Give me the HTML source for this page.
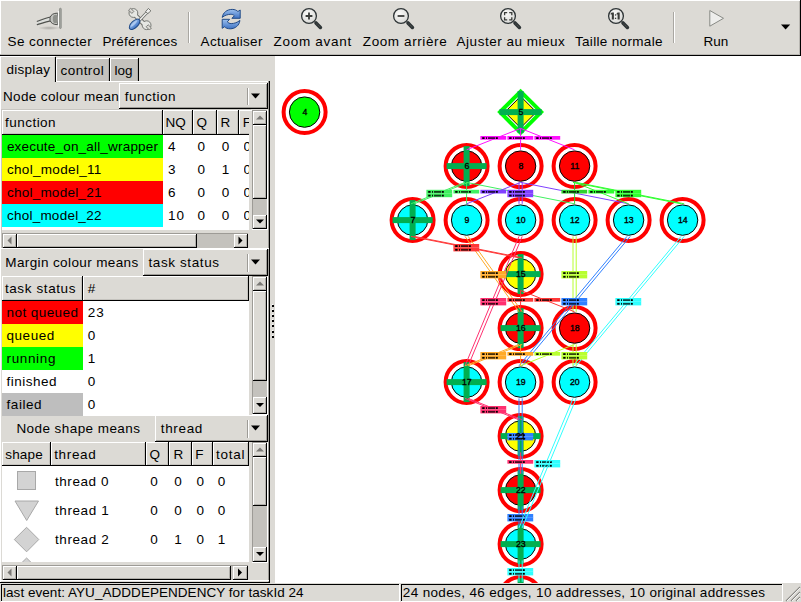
<!DOCTYPE html>
<html><head><meta charset="utf-8"><title>Temanejo</title>
<style>
html,body{margin:0;padding:0;}
body{width:801px;height:602px;overflow:hidden;position:relative;background:#dcdad5;font-family:"Liberation Sans",sans-serif;}
.a{position:absolute;}
.t{position:absolute;white-space:nowrap;color:#000;}
svg{position:absolute;}
</style></head><body>
<div class="a" style="left:0px;top:0px;width:801px;height:56px;background:#dcdad5;"></div>
<div class="a" style="left:0px;top:0px;width:801px;height:1px;background:#fff;"></div>
<div class="a" style="left:0px;top:0px;width:1px;height:55px;background:#fff;"></div>
<div class="a" style="left:0px;top:54px;width:801px;height:1px;background:#b9b7b2;"></div>
<div class="a" style="left:0px;top:55px;width:801px;height:1px;background:#000;"></div>
<div class="a" style="left:800px;top:0px;width:1px;height:56px;background:#000;"></div>
<div class="a" style="left:799px;top:1px;width:1px;height:54px;background:#b9b7b2;"></div>
<div class="t" style="left:7.50px;top:35.00px;font-size:13.5px;line-height:13.5px;letter-spacing:0.431px;">Se connecter</div>
<div class="t" style="left:102.40px;top:35.00px;font-size:13.5px;line-height:13.5px;letter-spacing:0.211px;">Préférences</div>
<div class="t" style="left:200.60px;top:35.00px;font-size:13.5px;line-height:13.5px;letter-spacing:0.280px;">Actualiser</div>
<div class="t" style="left:273.60px;top:35.00px;font-size:13.5px;line-height:13.5px;letter-spacing:0.702px;">Zoom avant</div>
<div class="t" style="left:362.80px;top:35.00px;font-size:13.5px;line-height:13.5px;letter-spacing:0.602px;">Zoom arrière</div>
<div class="t" style="left:456.60px;top:35.00px;font-size:13.5px;line-height:13.5px;letter-spacing:0.510px;">Ajuster au mieux</div>
<div class="t" style="left:574.90px;top:35.00px;font-size:13.5px;line-height:13.5px;letter-spacing:0.332px;">Taille normale</div>
<div class="t" style="left:703.47px;top:35.00px;font-size:13.5px;line-height:13.5px;">Run</div>
<div class="a" style="left:188px;top:12px;width:1px;height:31px;background:#a9a7a2;"></div>
<div class="a" style="left:189px;top:12px;width:1px;height:31px;background:#fff;"></div>
<div class="a" style="left:673px;top:12px;width:1px;height:31px;background:#a9a7a2;"></div>
<div class="a" style="left:674px;top:12px;width:1px;height:31px;background:#fff;"></div>
<svg style="left:0;top:0" width="801" height="54">
<defs>
<radialGradient id="lens" cx="0.4" cy="0.35" r="0.7"><stop offset="0" stop-color="#fafaf9"/><stop offset="1" stop-color="#d8d8d5"/></radialGradient>
<linearGradient id="blu" x1="0" y1="0" x2="0" y2="1"><stop offset="0" stop-color="#9cc0ee"/><stop offset="1" stop-color="#3d72c4"/></linearGradient>
<radialGradient id="shd" cx="0.5" cy="0.5" r="0.5"><stop offset="0" stop-color="#000" stop-opacity="0.22"/><stop offset="1" stop-color="#000" stop-opacity="0"/></radialGradient>
</defs>
<!-- Se connecter: plug -->
<ellipse cx="49" cy="28" rx="11" ry="2" fill="url(#shd)"/>
<path d="M37.2 21.3L50.6 17V20.9L37.2 24.6Z" fill="#dcdedb"/>
<path d="M37.3 21.3C42 19.6 46 18 50.6 17M37.3 24.6C42 23.2 46 21.8 50.6 20.9" fill="none" stroke="#4f514d" stroke-width="1.2" stroke-linecap="round"/>
<path d="M50 17.6C51 14.6 53.3 13.2 57.8 13.1V24.7C53.3 24.6 51 23.3 50 20.3Z" fill="#c2c3bf" stroke="#4e4f4c" stroke-width="1"/>
<ellipse cx="55.4" cy="18.9" rx="2.6" ry="4.2" fill="#8e908b"/>
<rect x="57.9" y="11" width="1.4" height="15.5" fill="#fbfbfa"/>
<rect x="59.5" y="8.2" width="1.8" height="20.3" rx="0.8" fill="#a3a5a0" stroke="#6d6f6b" stroke-width="0.5"/>
<!-- Preferences: wrench + screwdriver -->
<line x1="134" y1="14" x2="146" y2="26" stroke="#6a6c68" stroke-width="4.6"/>
<circle cx="133.4" cy="13" r="4.4" fill="#e6e7e3" stroke="#6a6c68" stroke-width="0.9"/>
<circle cx="146.6" cy="25.2" r="4.4" fill="#e6e7e3" stroke="#6a6c68" stroke-width="0.9"/>
<line x1="134" y1="14" x2="146" y2="26" stroke="#e6e7e3" stroke-width="2.8"/>
<rect x="-1.4" y="-5.4" width="2.8" height="4.6" transform="translate(133.4,13) rotate(-45)" fill="#dcdad5" stroke="#6a6c68" stroke-width="0.8"/>
<rect x="-1.4" y="-5.4" width="2.8" height="4.6" transform="translate(146.6,25.2) rotate(135)" fill="#dcdad5" stroke="#6a6c68" stroke-width="0.8"/>
<path d="M138.6 21.2L147.4 12" stroke="#6a6c68" stroke-width="3"/>
<path d="M138.6 21.2L147.4 12" stroke="#f2f2f0" stroke-width="1.4"/>
<path d="M145.6 11.6L148.4 8.4L150.9 10.9L147.8 13.6Z" fill="#eeeeec" stroke="#6a6c68" stroke-width="0.9" stroke-linejoin="round"/>
<ellipse cx="0" cy="0" rx="6.6" ry="3.3" transform="translate(134.6,24.3) rotate(-44)" fill="url(#blu)" stroke="#204a87" stroke-width="1"/>
<ellipse cx="0" cy="-0.9" rx="4.4" ry="1.1" transform="translate(134.6,24.3) rotate(-44)" fill="#b7d0f2" opacity="0.8"/>
<!-- Actualiser: refresh -->
<path d="M222.2 17.4C223 12.5 227 9.4 232.2 9.4C234.8 9.4 236.7 10.3 237.9 11.5L240.2 10V18.3H231.9L234.4 15.8C233.4 14.8 232.2 14.3 230.8 14.3C227.5 14.4 224.8 15.3 222.2 17.4Z" fill="url(#blu)" stroke="#204a87" stroke-width="1" stroke-linejoin="round"/>
<path d="M239.9 20.4C239.3 25.5 235.2 28.8 230.2 28.8C227.7 28.8 225.7 28 224.4 26.8L222.2 28.3V19.3H229.6L227.3 21.8C228.3 22.9 229.6 23.6 231.2 23.6C234.5 23.5 237.3 22.5 239.9 20.4Z" fill="url(#blu)" stroke="#204a87" stroke-width="1" stroke-linejoin="round"/>
<!-- zoom lenses -->
<g id="zl">
<path d="M316 23L320.4 27.4" stroke="#2e3436" stroke-width="3.6" stroke-linecap="round"/>
<path d="M316.6 23.6L320 27" stroke="#555753" stroke-width="1.1" stroke-dasharray="1 1"/>
<circle cx="309" cy="16" r="7.4" fill="url(#lens)" stroke="#2e3436" stroke-width="1.3"/>
</g>
<path d="M305.6 16H312.4M309 12.6V19.4" stroke="#3b3d3a" stroke-width="1.8"/>
<use href="#zl" x="92"/>
<path d="M397.6 16H404.4" stroke="#3b3d3a" stroke-width="1.8"/>
<use href="#zl" x="199"/>
<path d="M504.6 15.2V12.6H507.2M509.2 12.6H511.8V15.2M511.8 17.2V19.8H509.2M507.2 19.8H504.6V17.2" fill="none" stroke="#3b3d3a" stroke-width="1.3"/>
<use href="#zl" x="307"/>
<path d="M611.8 12.6H613.9V19.6H611.8V14.4L610.6 14.6V13.6Z M617.6 12.6H619.7V19.6H617.6V14.4L616.6 14.6V13.6Z" fill="#3b3d3a"/><rect x="614.9" y="14.3" width="1.3" height="1.3" fill="#3b3d3a"/><rect x="614.9" y="17.7" width="1.3" height="1.3" fill="#3b3d3a"/>
<!-- Run -->
<path d="M709.8 10.5V26.2L723.5 18.3Z" fill="#eeeeec" stroke="#888a85" stroke-width="1" stroke-linejoin="round"/>
<!-- overflow arrow -->
<path d="M781 24.6H790.2L785.6 29.6Z" fill="#000"/>
</svg>
<div class="a" style="left:0px;top:56px;width:275px;height:527px;background:#dcdad5;"></div>
<div class="a" style="left:0px;top:56px;width:1px;height:527px;background:#fff;"></div>
<div class="a" style="left:1px;top:56px;width:54px;height:1px;background:#fff;"></div>
<div class="a" style="left:54px;top:57px;width:1px;height:25px;background:#c8c6c1;"></div>
<div class="a" style="left:55px;top:57px;width:1px;height:25px;background:#000;"></div>
<div class="a" style="left:56px;top:58px;width:53px;height:23px;background:#c4c2bd;"></div>
<div class="a" style="left:56px;top:58px;width:53px;height:1px;background:#fff;"></div>
<div class="a" style="left:56px;top:58px;width:1px;height:23px;background:#fff;"></div>
<div class="a" style="left:109px;top:58px;width:1px;height:23px;background:#000;"></div>
<div class="a" style="left:108px;top:59px;width:1px;height:22px;background:#b0aea9;"></div>
<div class="a" style="left:110px;top:58px;width:28px;height:23px;background:#c4c2bd;"></div>
<div class="a" style="left:110px;top:58px;width:28px;height:1px;background:#fff;"></div>
<div class="a" style="left:110px;top:58px;width:1px;height:23px;background:#fff;"></div>
<div class="a" style="left:138px;top:58px;width:1px;height:23px;background:#000;"></div>
<div class="a" style="left:137px;top:59px;width:1px;height:22px;background:#b0aea9;"></div>
<div class="a" style="left:56px;top:81px;width:214px;height:1px;background:#fff;"></div>
<div class="a" style="left:268px;top:81px;width:1px;height:502px;background:#9d9b96;"></div>
<div class="a" style="left:269px;top:81px;width:1px;height:502px;background:#000;"></div>
<div class="t" style="left:6.50px;top:63.00px;font-size:13.5px;line-height:13.5px;letter-spacing:0.246px;">display</div>
<div class="t" style="left:60.60px;top:64.00px;font-size:13.5px;line-height:13.5px;letter-spacing:0.439px;">control</div>
<div class="t" style="left:114.40px;top:64.00px;font-size:13.5px;line-height:13.5px;letter-spacing:0.045px;">log</div>
<div class="t" style="left:3.00px;top:90.00px;font-size:13.5px;line-height:13.5px;letter-spacing:0.367px;width:116.00px;overflow:hidden;">Node colour means</div>
<div class="a" style="left:119px;top:83px;width:149px;height:26px;background:#dcdad5;"></div>
<div class="a" style="left:119px;top:83px;width:148px;height:1px;background:#fff;"></div>
<div class="a" style="left:119px;top:83px;width:1px;height:25px;background:#fff;"></div>
<div class="a" style="left:119px;top:108px;width:149px;height:1px;background:#000;"></div>
<div class="a" style="left:267px;top:83px;width:1px;height:26px;background:#000;"></div>
<div class="a" style="left:120px;top:107px;width:147px;height:1px;background:#9d9b96;"></div>
<div class="a" style="left:266px;top:84px;width:1px;height:24px;background:#9d9b96;"></div>
<div class="a" style="left:247px;top:88px;width:1px;height:17px;background:#9d9b96;"></div>
<div class="a" style="left:248px;top:88px;width:1px;height:17px;background:#fff;"></div>
<svg style="left:250px;top:91.5px" width="12" height="8"><path d="M1 1.5H10L5.5 6.5Z" fill="#000"/></svg>
<div class="t" style="left:124.80px;top:90.00px;font-size:13.5px;line-height:13.5px;letter-spacing:0.489px;">function</div>
<div class="a" style="left:1px;top:109px;width:250px;height:1px;background:#c8c6c1;"></div>
<div class="a" style="left:1px;top:109px;width:1px;height:140px;background:#c8c6c1;"></div>
<div class="a" style="left:2px;top:110px;width:247px;height:120px;background:#fff;"></div>
<div class="a" style="left:2px;top:110px;width:161px;height:25px;background:#dcdad5;"></div>
<div class="a" style="left:2px;top:110px;width:161px;height:1px;background:#fff;"></div>
<div class="a" style="left:2px;top:110px;width:1px;height:25px;background:#fff;"></div>
<div class="a" style="left:2px;top:134px;width:161px;height:1px;background:#000;"></div>
<div class="a" style="left:162px;top:110px;width:1px;height:25px;background:#000;"></div>
<div class="a" style="left:161px;top:111px;width:1px;height:23px;background:#c4c2bd;"></div>
<div class="a" style="left:3px;top:133px;width:159px;height:1px;background:#c4c2bd;"></div>
<div class="t" style="left:5.00px;top:116.00px;font-size:13.5px;line-height:13.5px;letter-spacing:0.475px;">function</div>
<div class="a" style="left:163px;top:110px;width:30px;height:25px;background:#dcdad5;"></div>
<div class="a" style="left:163px;top:110px;width:30px;height:1px;background:#fff;"></div>
<div class="a" style="left:163px;top:110px;width:1px;height:25px;background:#fff;"></div>
<div class="a" style="left:163px;top:134px;width:30px;height:1px;background:#000;"></div>
<div class="a" style="left:192px;top:110px;width:1px;height:25px;background:#000;"></div>
<div class="a" style="left:191px;top:111px;width:1px;height:23px;background:#c4c2bd;"></div>
<div class="a" style="left:164px;top:133px;width:28px;height:1px;background:#c4c2bd;"></div>
<div class="t" style="left:165.62px;top:116.00px;font-size:13.5px;line-height:13.5px;">NQ</div>
<div class="a" style="left:193px;top:110px;width:24px;height:25px;background:#dcdad5;"></div>
<div class="a" style="left:193px;top:110px;width:24px;height:1px;background:#fff;"></div>
<div class="a" style="left:193px;top:110px;width:1px;height:25px;background:#fff;"></div>
<div class="a" style="left:193px;top:134px;width:24px;height:1px;background:#000;"></div>
<div class="a" style="left:216px;top:110px;width:1px;height:25px;background:#000;"></div>
<div class="a" style="left:215px;top:111px;width:1px;height:23px;background:#c4c2bd;"></div>
<div class="a" style="left:194px;top:133px;width:22px;height:1px;background:#c4c2bd;"></div>
<div class="t" style="left:196.50px;top:116.00px;font-size:13.5px;line-height:13.5px;">Q</div>
<div class="a" style="left:217px;top:110px;width:22px;height:25px;background:#dcdad5;"></div>
<div class="a" style="left:217px;top:110px;width:22px;height:1px;background:#fff;"></div>
<div class="a" style="left:217px;top:110px;width:1px;height:25px;background:#fff;"></div>
<div class="a" style="left:217px;top:134px;width:22px;height:1px;background:#000;"></div>
<div class="a" style="left:238px;top:110px;width:1px;height:25px;background:#000;"></div>
<div class="a" style="left:237px;top:111px;width:1px;height:23px;background:#c4c2bd;"></div>
<div class="a" style="left:218px;top:133px;width:20px;height:1px;background:#c4c2bd;"></div>
<div class="t" style="left:220.50px;top:116.00px;font-size:13.5px;line-height:13.5px;">R</div>
<div class="a" style="left:239px;top:110px;width:13px;height:25px;background:#dcdad5;"></div>
<div class="a" style="left:239px;top:110px;width:13px;height:1px;background:#fff;"></div>
<div class="a" style="left:239px;top:110px;width:1px;height:25px;background:#fff;"></div>
<div class="a" style="left:239px;top:134px;width:10px;height:1px;background:#000;"></div>
<div class="a" style="left:240px;top:133px;width:9px;height:1px;background:#c4c2bd;"></div>
<div class="t" style="left:242.80px;top:116.00px;font-size:13.5px;line-height:13.5px;width:6.20px;overflow:hidden;">F</div>
<div class="a" style="left:2px;top:135px;width:161px;height:23px;background:#00ff00;"></div>
<div class="t" style="left:6.90px;top:140.00px;font-size:13.5px;line-height:13.5px;letter-spacing:0.190px;">execute_on_all_wrapper</div>
<div class="t" style="left:168.00px;top:140.00px;font-size:13.5px;line-height:13.5px;">4</div>
<div class="t" style="left:197.60px;top:140.00px;font-size:13.5px;line-height:13.5px;">0</div>
<div class="t" style="left:221.80px;top:140.00px;font-size:13.5px;line-height:13.5px;">0</div>
<div class="t" style="left:243.50px;top:140.00px;font-size:13.5px;line-height:13.5px;width:5.50px;overflow:hidden;">0</div>
<div class="a" style="left:2px;top:158px;width:161px;height:23px;background:#ffff00;"></div>
<div class="t" style="left:6.90px;top:163.00px;font-size:13.5px;line-height:13.5px;letter-spacing:0.327px;">chol_model_11</div>
<div class="t" style="left:168.00px;top:163.00px;font-size:13.5px;line-height:13.5px;">3</div>
<div class="t" style="left:197.60px;top:163.00px;font-size:13.5px;line-height:13.5px;">0</div>
<div class="t" style="left:221.80px;top:163.00px;font-size:13.5px;line-height:13.5px;">1</div>
<div class="t" style="left:243.50px;top:163.00px;font-size:13.5px;line-height:13.5px;width:5.50px;overflow:hidden;">0</div>
<div class="a" style="left:2px;top:181px;width:161px;height:23px;background:#ff0000;"></div>
<div class="t" style="left:6.90px;top:186.00px;font-size:13.5px;line-height:13.5px;letter-spacing:0.244px;">chol_model_21</div>
<div class="t" style="left:168.00px;top:186.00px;font-size:13.5px;line-height:13.5px;">6</div>
<div class="t" style="left:197.60px;top:186.00px;font-size:13.5px;line-height:13.5px;">0</div>
<div class="t" style="left:221.80px;top:186.00px;font-size:13.5px;line-height:13.5px;">0</div>
<div class="t" style="left:243.50px;top:186.00px;font-size:13.5px;line-height:13.5px;width:5.50px;overflow:hidden;">0</div>
<div class="a" style="left:2px;top:204px;width:161px;height:23px;background:#00ffff;"></div>
<div class="t" style="left:6.90px;top:209.00px;font-size:13.5px;line-height:13.5px;letter-spacing:0.244px;">chol_model_22</div>
<div class="t" style="left:168.00px;top:209.00px;font-size:13.5px;line-height:13.5px;letter-spacing:1.111px;">10</div>
<div class="t" style="left:197.60px;top:209.00px;font-size:13.5px;line-height:13.5px;">0</div>
<div class="t" style="left:221.80px;top:209.00px;font-size:13.5px;line-height:13.5px;">0</div>
<div class="t" style="left:243.50px;top:209.00px;font-size:13.5px;line-height:13.5px;width:5.50px;overflow:hidden;">0</div>
<div class="a" style="left:252px;top:110px;width:16px;height:120px;background:#c4c2bd;"></div>
<div class="a" style="left:252px;top:110px;width:16px;height:1px;background:#9d9b96;"></div>
<div class="a" style="left:252px;top:110px;width:1px;height:120px;background:#9d9b96;"></div>
<div class="a" style="left:267px;top:110px;width:1px;height:120px;background:#fff;"></div>
<div class="a" style="left:252px;top:229px;width:16px;height:1px;background:#fff;"></div>
<div class="a" style="left:253px;top:111px;width:14px;height:14px;background:#dcdad5;"></div>
<div class="a" style="left:253px;top:111px;width:13px;height:1px;background:#fff;"></div>
<div class="a" style="left:253px;top:111px;width:1px;height:13px;background:#fff;"></div>
<div class="a" style="left:253px;top:124px;width:14px;height:1px;background:#000;"></div>
<div class="a" style="left:266px;top:111px;width:1px;height:14px;background:#000;"></div>
<div class="a" style="left:254px;top:123px;width:12px;height:1px;background:#b0aea9;"></div>
<div class="a" style="left:265px;top:112px;width:1px;height:12px;background:#b0aea9;"></div>
<div class="a" style="left:253px;top:125px;width:14px;height:74px;background:#dcdad5;"></div>
<div class="a" style="left:253px;top:125px;width:13px;height:1px;background:#fff;"></div>
<div class="a" style="left:253px;top:125px;width:1px;height:73px;background:#fff;"></div>
<div class="a" style="left:253px;top:198px;width:14px;height:1px;background:#000;"></div>
<div class="a" style="left:266px;top:125px;width:1px;height:74px;background:#000;"></div>
<div class="a" style="left:254px;top:197px;width:12px;height:1px;background:#b0aea9;"></div>
<div class="a" style="left:265px;top:126px;width:1px;height:72px;background:#b0aea9;"></div>
<div class="a" style="left:253px;top:215px;width:14px;height:14px;background:#dcdad5;"></div>
<div class="a" style="left:253px;top:215px;width:13px;height:1px;background:#fff;"></div>
<div class="a" style="left:253px;top:215px;width:1px;height:13px;background:#fff;"></div>
<div class="a" style="left:253px;top:228px;width:14px;height:1px;background:#000;"></div>
<div class="a" style="left:266px;top:215px;width:1px;height:14px;background:#000;"></div>
<div class="a" style="left:254px;top:227px;width:12px;height:1px;background:#b0aea9;"></div>
<div class="a" style="left:265px;top:216px;width:1px;height:12px;background:#b0aea9;"></div>
<svg style="left:252px;top:110px" width="16" height="120"><path d="M4.0 9.5H12.0L8.0 5.5Z" fill="#7a7875"/><path d="M4.0 109.5H12.0L8.0 113.5Z" fill="#000"/></svg>
<div class="a" style="left:2px;top:233px;width:246px;height:15px;background:#c4c2bd;"></div>
<div class="a" style="left:2px;top:233px;width:246px;height:1px;background:#9d9b96;"></div>
<div class="a" style="left:2px;top:233px;width:1px;height:15px;background:#9d9b96;"></div>
<div class="a" style="left:3px;top:234px;width:14px;height:14px;background:#dcdad5;"></div>
<div class="a" style="left:3px;top:234px;width:13px;height:1px;background:#fff;"></div>
<div class="a" style="left:3px;top:234px;width:1px;height:13px;background:#fff;"></div>
<div class="a" style="left:3px;top:247px;width:14px;height:1px;background:#000;"></div>
<div class="a" style="left:16px;top:234px;width:1px;height:14px;background:#000;"></div>
<div class="a" style="left:4px;top:246px;width:12px;height:1px;background:#b0aea9;"></div>
<div class="a" style="left:15px;top:235px;width:1px;height:11px;background:#b0aea9;"></div>
<div class="a" style="left:17px;top:234px;width:180px;height:14px;background:#dcdad5;"></div>
<div class="a" style="left:17px;top:234px;width:179px;height:1px;background:#fff;"></div>
<div class="a" style="left:17px;top:234px;width:1px;height:13px;background:#fff;"></div>
<div class="a" style="left:17px;top:247px;width:180px;height:1px;background:#000;"></div>
<div class="a" style="left:196px;top:234px;width:1px;height:14px;background:#000;"></div>
<div class="a" style="left:18px;top:246px;width:178px;height:1px;background:#b0aea9;"></div>
<div class="a" style="left:195px;top:235px;width:1px;height:11px;background:#b0aea9;"></div>
<div class="a" style="left:234px;top:234px;width:14px;height:14px;background:#dcdad5;"></div>
<div class="a" style="left:234px;top:234px;width:13px;height:1px;background:#fff;"></div>
<div class="a" style="left:234px;top:234px;width:1px;height:13px;background:#fff;"></div>
<div class="a" style="left:234px;top:247px;width:14px;height:1px;background:#000;"></div>
<div class="a" style="left:247px;top:234px;width:1px;height:14px;background:#000;"></div>
<div class="a" style="left:235px;top:246px;width:12px;height:1px;background:#b0aea9;"></div>
<div class="a" style="left:246px;top:235px;width:1px;height:11px;background:#b0aea9;"></div>
<svg style="left:0px;top:233px" width="270" height="16"><path d="M11.5 3.5V11.5L7.5 7.5Z" fill="#7a7875"/><path d="M238.5 3.5V11.5L242.5 7.5Z" fill="#000"/></svg>
<div class="a" style="left:1px;top:248px;width:268px;height:1px;background:#fff;"></div>
<div class="t" style="left:5.30px;top:256.00px;font-size:13.5px;line-height:13.5px;letter-spacing:0.381px;">Margin colour means</div>
<div class="a" style="left:143px;top:249px;width:125px;height:27px;background:#dcdad5;"></div>
<div class="a" style="left:143px;top:249px;width:124px;height:1px;background:#fff;"></div>
<div class="a" style="left:143px;top:249px;width:1px;height:26px;background:#fff;"></div>
<div class="a" style="left:143px;top:275px;width:125px;height:1px;background:#000;"></div>
<div class="a" style="left:267px;top:249px;width:1px;height:27px;background:#000;"></div>
<div class="a" style="left:144px;top:274px;width:123px;height:1px;background:#9d9b96;"></div>
<div class="a" style="left:266px;top:250px;width:1px;height:25px;background:#9d9b96;"></div>
<div class="a" style="left:247px;top:254px;width:1px;height:18px;background:#9d9b96;"></div>
<div class="a" style="left:248px;top:254px;width:1px;height:18px;background:#fff;"></div>
<svg style="left:250px;top:258.0px" width="12" height="8"><path d="M1 1.5H10L5.5 6.5Z" fill="#000"/></svg>
<div class="t" style="left:148.50px;top:256.00px;font-size:13.5px;line-height:13.5px;letter-spacing:0.597px;">task status</div>
<div class="a" style="left:2px;top:276px;width:247px;height:140px;background:#fff;"></div>
<div class="a" style="left:2px;top:276px;width:81px;height:25px;background:#dcdad5;"></div>
<div class="a" style="left:2px;top:276px;width:81px;height:1px;background:#fff;"></div>
<div class="a" style="left:2px;top:276px;width:1px;height:25px;background:#fff;"></div>
<div class="a" style="left:2px;top:300px;width:81px;height:1px;background:#000;"></div>
<div class="a" style="left:82px;top:276px;width:1px;height:25px;background:#000;"></div>
<div class="a" style="left:81px;top:277px;width:1px;height:23px;background:#c4c2bd;"></div>
<div class="a" style="left:3px;top:299px;width:79px;height:1px;background:#c4c2bd;"></div>
<div class="t" style="left:4.90px;top:282.00px;font-size:13.5px;line-height:13.5px;letter-spacing:0.607px;">task status</div>
<div class="a" style="left:83px;top:276px;width:166px;height:25px;background:#dcdad5;"></div>
<div class="a" style="left:83px;top:276px;width:166px;height:1px;background:#fff;"></div>
<div class="a" style="left:83px;top:276px;width:1px;height:25px;background:#fff;"></div>
<div class="a" style="left:83px;top:300px;width:166px;height:1px;background:#000;"></div>
<div class="a" style="left:248px;top:276px;width:1px;height:25px;background:#000;"></div>
<div class="a" style="left:247px;top:277px;width:1px;height:23px;background:#c4c2bd;"></div>
<div class="a" style="left:84px;top:299px;width:164px;height:1px;background:#c4c2bd;"></div>
<div class="t" style="left:87.70px;top:282.00px;font-size:13.5px;line-height:13.5px;">#</div>
<div class="a" style="left:2px;top:301px;width:81px;height:23px;background:#ff0000;"></div>
<div class="t" style="left:6.50px;top:306.00px;font-size:13.5px;line-height:13.5px;letter-spacing:0.437px;">not queued</div>
<div class="t" style="left:87.70px;top:306.00px;font-size:13.5px;line-height:13.5px;letter-spacing:1.111px;">23</div>
<div class="a" style="left:2px;top:324px;width:81px;height:23px;background:#ffff00;"></div>
<div class="t" style="left:6.50px;top:329.00px;font-size:13.5px;line-height:13.5px;letter-spacing:0.542px;">queued</div>
<div class="t" style="left:87.70px;top:329.00px;font-size:13.5px;line-height:13.5px;">0</div>
<div class="a" style="left:2px;top:347px;width:81px;height:23px;background:#00ff00;"></div>
<div class="t" style="left:6.50px;top:352.00px;font-size:13.5px;line-height:13.5px;letter-spacing:0.646px;">running</div>
<div class="t" style="left:87.70px;top:352.00px;font-size:13.5px;line-height:13.5px;">1</div>
<div class="t" style="left:6.50px;top:375.00px;font-size:13.5px;line-height:13.5px;letter-spacing:0.497px;">finished</div>
<div class="t" style="left:87.70px;top:375.00px;font-size:13.5px;line-height:13.5px;">0</div>
<div class="a" style="left:2px;top:393px;width:81px;height:23px;background:#bebebe;"></div>
<div class="t" style="left:6.50px;top:398.00px;font-size:13.5px;line-height:13.5px;letter-spacing:0.569px;">failed</div>
<div class="t" style="left:87.70px;top:398.00px;font-size:13.5px;line-height:13.5px;">0</div>
<div class="a" style="left:252px;top:276px;width:16px;height:139px;background:#c4c2bd;"></div>
<div class="a" style="left:252px;top:276px;width:16px;height:1px;background:#9d9b96;"></div>
<div class="a" style="left:252px;top:276px;width:1px;height:139px;background:#9d9b96;"></div>
<div class="a" style="left:267px;top:276px;width:1px;height:139px;background:#fff;"></div>
<div class="a" style="left:252px;top:414px;width:16px;height:1px;background:#fff;"></div>
<div class="a" style="left:253px;top:277px;width:14px;height:14px;background:#dcdad5;"></div>
<div class="a" style="left:253px;top:277px;width:13px;height:1px;background:#fff;"></div>
<div class="a" style="left:253px;top:277px;width:1px;height:13px;background:#fff;"></div>
<div class="a" style="left:253px;top:290px;width:14px;height:1px;background:#000;"></div>
<div class="a" style="left:266px;top:277px;width:1px;height:14px;background:#000;"></div>
<div class="a" style="left:254px;top:289px;width:12px;height:1px;background:#b0aea9;"></div>
<div class="a" style="left:265px;top:278px;width:1px;height:12px;background:#b0aea9;"></div>
<div class="a" style="left:253px;top:291px;width:14px;height:90px;background:#dcdad5;"></div>
<div class="a" style="left:253px;top:291px;width:13px;height:1px;background:#fff;"></div>
<div class="a" style="left:253px;top:291px;width:1px;height:89px;background:#fff;"></div>
<div class="a" style="left:253px;top:380px;width:14px;height:1px;background:#000;"></div>
<div class="a" style="left:266px;top:291px;width:1px;height:90px;background:#000;"></div>
<div class="a" style="left:254px;top:379px;width:12px;height:1px;background:#b0aea9;"></div>
<div class="a" style="left:265px;top:292px;width:1px;height:88px;background:#b0aea9;"></div>
<div class="a" style="left:253px;top:397px;width:14px;height:17px;background:#dcdad5;"></div>
<div class="a" style="left:253px;top:397px;width:13px;height:1px;background:#fff;"></div>
<div class="a" style="left:253px;top:397px;width:1px;height:16px;background:#fff;"></div>
<div class="a" style="left:253px;top:413px;width:14px;height:1px;background:#000;"></div>
<div class="a" style="left:266px;top:397px;width:1px;height:17px;background:#000;"></div>
<div class="a" style="left:254px;top:412px;width:12px;height:1px;background:#b0aea9;"></div>
<div class="a" style="left:265px;top:398px;width:1px;height:15px;background:#b0aea9;"></div>
<svg style="left:252px;top:276px" width="16" height="139"><path d="M4.0 9.5H12.0L8.0 5.5Z" fill="#7a7875"/><path d="M4.0 127.0H12.0L8.0 131.0Z" fill="#000"/></svg>
<div class="t" style="left:16.40px;top:422.00px;font-size:13.5px;line-height:13.5px;letter-spacing:0.435px;">Node shape means</div>
<div class="a" style="left:155px;top:415px;width:113px;height:27px;background:#dcdad5;"></div>
<div class="a" style="left:155px;top:415px;width:112px;height:1px;background:#fff;"></div>
<div class="a" style="left:155px;top:415px;width:1px;height:26px;background:#fff;"></div>
<div class="a" style="left:155px;top:441px;width:113px;height:1px;background:#000;"></div>
<div class="a" style="left:267px;top:415px;width:1px;height:27px;background:#000;"></div>
<div class="a" style="left:156px;top:440px;width:111px;height:1px;background:#9d9b96;"></div>
<div class="a" style="left:266px;top:416px;width:1px;height:25px;background:#9d9b96;"></div>
<div class="a" style="left:247px;top:420px;width:1px;height:18px;background:#9d9b96;"></div>
<div class="a" style="left:248px;top:420px;width:1px;height:18px;background:#fff;"></div>
<svg style="left:250px;top:424.0px" width="12" height="8"><path d="M1 1.5H10L5.5 6.5Z" fill="#000"/></svg>
<div class="t" style="left:160.80px;top:422.00px;font-size:13.5px;line-height:13.5px;letter-spacing:0.655px;">thread</div>
<div class="a" style="left:2px;top:442px;width:247px;height:120px;background:#fff;"></div>
<div class="a" style="left:2px;top:442px;width:49px;height:24px;background:#dcdad5;"></div>
<div class="a" style="left:2px;top:442px;width:49px;height:1px;background:#fff;"></div>
<div class="a" style="left:2px;top:442px;width:1px;height:24px;background:#fff;"></div>
<div class="a" style="left:2px;top:465px;width:49px;height:1px;background:#000;"></div>
<div class="a" style="left:50px;top:442px;width:1px;height:24px;background:#000;"></div>
<div class="a" style="left:49px;top:443px;width:1px;height:22px;background:#c4c2bd;"></div>
<div class="a" style="left:3px;top:464px;width:47px;height:1px;background:#c4c2bd;"></div>
<div class="t" style="left:5.20px;top:448.00px;font-size:13.5px;line-height:13.5px;letter-spacing:0.203px;">shape</div>
<div class="a" style="left:51px;top:442px;width:95px;height:24px;background:#dcdad5;"></div>
<div class="a" style="left:51px;top:442px;width:95px;height:1px;background:#fff;"></div>
<div class="a" style="left:51px;top:442px;width:1px;height:24px;background:#fff;"></div>
<div class="a" style="left:51px;top:465px;width:95px;height:1px;background:#000;"></div>
<div class="a" style="left:145px;top:442px;width:1px;height:24px;background:#000;"></div>
<div class="a" style="left:144px;top:443px;width:1px;height:22px;background:#c4c2bd;"></div>
<div class="a" style="left:52px;top:464px;width:93px;height:1px;background:#c4c2bd;"></div>
<div class="t" style="left:54.20px;top:448.00px;font-size:13.5px;line-height:13.5px;letter-spacing:0.655px;">thread</div>
<div class="a" style="left:146px;top:442px;width:23px;height:24px;background:#dcdad5;"></div>
<div class="a" style="left:146px;top:442px;width:23px;height:1px;background:#fff;"></div>
<div class="a" style="left:146px;top:442px;width:1px;height:24px;background:#fff;"></div>
<div class="a" style="left:146px;top:465px;width:23px;height:1px;background:#000;"></div>
<div class="a" style="left:168px;top:442px;width:1px;height:24px;background:#000;"></div>
<div class="a" style="left:167px;top:443px;width:1px;height:22px;background:#c4c2bd;"></div>
<div class="a" style="left:147px;top:464px;width:21px;height:1px;background:#c4c2bd;"></div>
<div class="t" style="left:149.60px;top:448.00px;font-size:13.5px;line-height:13.5px;">Q</div>
<div class="a" style="left:169px;top:442px;width:23px;height:24px;background:#dcdad5;"></div>
<div class="a" style="left:169px;top:442px;width:23px;height:1px;background:#fff;"></div>
<div class="a" style="left:169px;top:442px;width:1px;height:24px;background:#fff;"></div>
<div class="a" style="left:169px;top:465px;width:23px;height:1px;background:#000;"></div>
<div class="a" style="left:191px;top:442px;width:1px;height:24px;background:#000;"></div>
<div class="a" style="left:190px;top:443px;width:1px;height:22px;background:#c4c2bd;"></div>
<div class="a" style="left:170px;top:464px;width:21px;height:1px;background:#c4c2bd;"></div>
<div class="t" style="left:173.40px;top:448.00px;font-size:13.5px;line-height:13.5px;">R</div>
<div class="a" style="left:192px;top:442px;width:21px;height:24px;background:#dcdad5;"></div>
<div class="a" style="left:192px;top:442px;width:21px;height:1px;background:#fff;"></div>
<div class="a" style="left:192px;top:442px;width:1px;height:24px;background:#fff;"></div>
<div class="a" style="left:192px;top:465px;width:21px;height:1px;background:#000;"></div>
<div class="a" style="left:212px;top:442px;width:1px;height:24px;background:#000;"></div>
<div class="a" style="left:211px;top:443px;width:1px;height:22px;background:#c4c2bd;"></div>
<div class="a" style="left:193px;top:464px;width:19px;height:1px;background:#c4c2bd;"></div>
<div class="t" style="left:195.20px;top:448.00px;font-size:13.5px;line-height:13.5px;">F</div>
<div class="a" style="left:213px;top:442px;width:36px;height:24px;background:#dcdad5;"></div>
<div class="a" style="left:213px;top:442px;width:36px;height:1px;background:#fff;"></div>
<div class="a" style="left:213px;top:442px;width:1px;height:24px;background:#fff;"></div>
<div class="a" style="left:213px;top:465px;width:36px;height:1px;background:#000;"></div>
<div class="a" style="left:248px;top:442px;width:1px;height:24px;background:#000;"></div>
<div class="a" style="left:247px;top:443px;width:1px;height:22px;background:#c4c2bd;"></div>
<div class="a" style="left:214px;top:464px;width:34px;height:1px;background:#c4c2bd;"></div>
<div class="t" style="left:216.00px;top:448.00px;font-size:13.5px;line-height:13.5px;letter-spacing:0.721px;">total</div>
<div class="t" style="left:55.00px;top:475.00px;font-size:13.5px;line-height:13.5px;letter-spacing:0.553px;">thread 0</div>
<div class="t" style="left:150.30px;top:475.00px;font-size:13.5px;line-height:13.5px;">0</div>
<div class="t" style="left:174.30px;top:475.00px;font-size:13.5px;line-height:13.5px;">0</div>
<div class="t" style="left:196.60px;top:475.00px;font-size:13.5px;line-height:13.5px;">0</div>
<div class="t" style="left:217.80px;top:475.00px;font-size:13.5px;line-height:13.5px;">0</div>
<div class="t" style="left:55.00px;top:504.00px;font-size:13.5px;line-height:13.5px;letter-spacing:0.587px;">thread 1</div>
<div class="t" style="left:150.30px;top:504.00px;font-size:13.5px;line-height:13.5px;">0</div>
<div class="t" style="left:174.30px;top:504.00px;font-size:13.5px;line-height:13.5px;">0</div>
<div class="t" style="left:196.60px;top:504.00px;font-size:13.5px;line-height:13.5px;">0</div>
<div class="t" style="left:217.80px;top:504.00px;font-size:13.5px;line-height:13.5px;">0</div>
<div class="t" style="left:55.00px;top:533.00px;font-size:13.5px;line-height:13.5px;letter-spacing:0.587px;">thread 2</div>
<div class="t" style="left:150.30px;top:533.00px;font-size:13.5px;line-height:13.5px;">0</div>
<div class="t" style="left:174.30px;top:533.00px;font-size:13.5px;line-height:13.5px;">1</div>
<div class="t" style="left:196.60px;top:533.00px;font-size:13.5px;line-height:13.5px;">0</div>
<div class="t" style="left:217.80px;top:533.00px;font-size:13.5px;line-height:13.5px;">1</div>
<svg style="left:2px;top:466px" width="60" height="96"><rect x="15.5" y="5.5" width="18" height="18" fill="#d3d3d3" stroke="#a8a8a8"/><path d="M13 35H36.5L24.7 54.5Z" fill="#d3d3d3" stroke="#a8a8a8"/><path d="M24.6 61.3L36.8 73.5L24.6 85.8L12.3 73.5Z" fill="#d3d3d3" stroke="#a8a8a8"/><path d="M24.6 92L36.8 104L12.3 104Z" fill="#d3d3d3" stroke="#a8a8a8"/></svg>
<div class="a" style="left:2px;top:562px;width:247px;height:3px;background:#dcdad5;"></div>
<div class="a" style="left:252px;top:442px;width:16px;height:121px;background:#c4c2bd;"></div>
<div class="a" style="left:252px;top:442px;width:16px;height:1px;background:#9d9b96;"></div>
<div class="a" style="left:252px;top:442px;width:1px;height:121px;background:#9d9b96;"></div>
<div class="a" style="left:267px;top:442px;width:1px;height:121px;background:#fff;"></div>
<div class="a" style="left:252px;top:562px;width:16px;height:1px;background:#fff;"></div>
<div class="a" style="left:253px;top:443px;width:14px;height:14px;background:#dcdad5;"></div>
<div class="a" style="left:253px;top:443px;width:13px;height:1px;background:#fff;"></div>
<div class="a" style="left:253px;top:443px;width:1px;height:13px;background:#fff;"></div>
<div class="a" style="left:253px;top:456px;width:14px;height:1px;background:#000;"></div>
<div class="a" style="left:266px;top:443px;width:1px;height:14px;background:#000;"></div>
<div class="a" style="left:254px;top:455px;width:12px;height:1px;background:#b0aea9;"></div>
<div class="a" style="left:265px;top:444px;width:1px;height:12px;background:#b0aea9;"></div>
<div class="a" style="left:253px;top:457px;width:14px;height:49px;background:#dcdad5;"></div>
<div class="a" style="left:253px;top:457px;width:13px;height:1px;background:#fff;"></div>
<div class="a" style="left:253px;top:457px;width:1px;height:48px;background:#fff;"></div>
<div class="a" style="left:253px;top:505px;width:14px;height:1px;background:#000;"></div>
<div class="a" style="left:266px;top:457px;width:1px;height:49px;background:#000;"></div>
<div class="a" style="left:254px;top:504px;width:12px;height:1px;background:#b0aea9;"></div>
<div class="a" style="left:265px;top:458px;width:1px;height:47px;background:#b0aea9;"></div>
<div class="a" style="left:253px;top:547px;width:14px;height:15px;background:#dcdad5;"></div>
<div class="a" style="left:253px;top:547px;width:13px;height:1px;background:#fff;"></div>
<div class="a" style="left:253px;top:547px;width:1px;height:14px;background:#fff;"></div>
<div class="a" style="left:253px;top:561px;width:14px;height:1px;background:#000;"></div>
<div class="a" style="left:266px;top:547px;width:1px;height:15px;background:#000;"></div>
<div class="a" style="left:254px;top:560px;width:12px;height:1px;background:#b0aea9;"></div>
<div class="a" style="left:265px;top:548px;width:1px;height:13px;background:#b0aea9;"></div>
<svg style="left:252px;top:442px" width="16" height="121"><path d="M4.0 9.5H12.0L8.0 5.5Z" fill="#7a7875"/><path d="M4.0 110.0H12.0L8.0 114.0Z" fill="#000"/></svg>
<div class="a" style="left:2px;top:565px;width:246px;height:15px;background:#c4c2bd;"></div>
<div class="a" style="left:2px;top:565px;width:246px;height:1px;background:#9d9b96;"></div>
<div class="a" style="left:2px;top:565px;width:1px;height:15px;background:#9d9b96;"></div>
<div class="a" style="left:3px;top:566px;width:14px;height:14px;background:#dcdad5;"></div>
<div class="a" style="left:3px;top:566px;width:13px;height:1px;background:#fff;"></div>
<div class="a" style="left:3px;top:566px;width:1px;height:13px;background:#fff;"></div>
<div class="a" style="left:3px;top:579px;width:14px;height:1px;background:#000;"></div>
<div class="a" style="left:16px;top:566px;width:1px;height:14px;background:#000;"></div>
<div class="a" style="left:4px;top:578px;width:12px;height:1px;background:#b0aea9;"></div>
<div class="a" style="left:15px;top:567px;width:1px;height:11px;background:#b0aea9;"></div>
<div class="a" style="left:17px;top:566px;width:214px;height:14px;background:#dcdad5;"></div>
<div class="a" style="left:17px;top:566px;width:213px;height:1px;background:#fff;"></div>
<div class="a" style="left:17px;top:566px;width:1px;height:13px;background:#fff;"></div>
<div class="a" style="left:17px;top:579px;width:214px;height:1px;background:#000;"></div>
<div class="a" style="left:230px;top:566px;width:1px;height:14px;background:#000;"></div>
<div class="a" style="left:18px;top:578px;width:212px;height:1px;background:#b0aea9;"></div>
<div class="a" style="left:229px;top:567px;width:1px;height:11px;background:#b0aea9;"></div>
<div class="a" style="left:233px;top:566px;width:15px;height:14px;background:#dcdad5;"></div>
<div class="a" style="left:233px;top:566px;width:14px;height:1px;background:#fff;"></div>
<div class="a" style="left:233px;top:566px;width:1px;height:13px;background:#fff;"></div>
<div class="a" style="left:233px;top:579px;width:15px;height:1px;background:#000;"></div>
<div class="a" style="left:247px;top:566px;width:1px;height:14px;background:#000;"></div>
<div class="a" style="left:234px;top:578px;width:13px;height:1px;background:#b0aea9;"></div>
<div class="a" style="left:246px;top:567px;width:1px;height:11px;background:#b0aea9;"></div>
<svg style="left:0px;top:565px" width="270" height="16"><path d="M11.5 3.5V11.5L7.5 7.5Z" fill="#7a7875"/><path d="M238.0 3.5V11.5L242.0 7.5Z" fill="#000"/></svg>
<div class="a" style="left:1px;top:580px;width:268px;height:1px;background:#fff;"></div>
<div class="a" style="left:0px;top:582px;width:270px;height:1px;background:#000;"></div>
<div class="a" style="left:272px;top:305px;width:2px;height:2px;background:#000;"></div>
<div class="a" style="left:272px;top:304px;width:1px;height:1px;background:#fff;"></div>
<div class="a" style="left:272px;top:310px;width:2px;height:2px;background:#000;"></div>
<div class="a" style="left:272px;top:309px;width:1px;height:1px;background:#fff;"></div>
<div class="a" style="left:272px;top:315px;width:2px;height:2px;background:#000;"></div>
<div class="a" style="left:272px;top:314px;width:1px;height:1px;background:#fff;"></div>
<div class="a" style="left:272px;top:320px;width:2px;height:2px;background:#000;"></div>
<div class="a" style="left:272px;top:319px;width:1px;height:1px;background:#fff;"></div>
<div class="a" style="left:272px;top:325px;width:2px;height:2px;background:#000;"></div>
<div class="a" style="left:272px;top:324px;width:1px;height:1px;background:#fff;"></div>
<div class="a" style="left:272px;top:331px;width:2px;height:2px;background:#000;"></div>
<div class="a" style="left:272px;top:330px;width:1px;height:1px;background:#fff;"></div>
<div class="a" style="left:272px;top:336px;width:2px;height:2px;background:#000;"></div>
<div class="a" style="left:272px;top:335px;width:1px;height:1px;background:#fff;"></div>
<div class="a" style="left:275px;top:56px;width:526px;height:527px;background:#fff;"></div>
<svg style="left:275px;top:56px" width="526" height="527" viewBox="275 56 526 527"><circle cx="304.60" cy="112.10" r="21" fill="none" stroke="#ff0000" stroke-width="4"/><circle cx="304.6" cy="112.1" r="15.2" fill="#00ff00" stroke="#000" stroke-width="1"/><path d="M520.6 88.69999999999999L544.0 112.1L520.6 135.5L497.20000000000005 112.1Z" fill="#00ff00"/><path d="M520.6 94.3L538.4 112.1L520.6 129.9L502.8 112.1Z" fill="#fff"/><path d="M520.6 96.3L536.4 112.1L520.6 127.89999999999999L504.8 112.1Z" fill="#ffff00" stroke="#000" stroke-width="1"/><rect x="517.6" y="91.1" width="6" height="42" fill="#00af50"/><rect x="499.6" y="109.1" width="42" height="6" fill="#00af50"/><circle cx="466.60" cy="166.10" r="21" fill="none" stroke="#ff0000" stroke-width="4"/><circle cx="466.6" cy="166.1" r="15.2" fill="#ff0000" stroke="#000" stroke-width="1"/><rect x="463.6" y="146.1" width="6" height="40" fill="#00af50"/><rect x="446.6" y="163.1" width="40" height="6" fill="#00af50"/><circle cx="520.60" cy="166.10" r="21" fill="none" stroke="#ff0000" stroke-width="4"/><circle cx="520.6" cy="166.1" r="15.2" fill="#ff0000" stroke="#000" stroke-width="1"/><circle cx="574.60" cy="166.10" r="21" fill="none" stroke="#ff0000" stroke-width="4"/><circle cx="574.6" cy="166.1" r="15.2" fill="#ff0000" stroke="#000" stroke-width="1"/><circle cx="412.60" cy="220.10" r="21" fill="none" stroke="#ff0000" stroke-width="4"/><circle cx="412.6" cy="220.1" r="15.2" fill="#00ffff" stroke="#000" stroke-width="1"/><rect x="409.6" y="200.1" width="6" height="40" fill="#00af50"/><rect x="392.6" y="217.1" width="40" height="6" fill="#00af50"/><circle cx="466.60" cy="220.10" r="21" fill="none" stroke="#ff0000" stroke-width="4"/><circle cx="466.6" cy="220.1" r="15.2" fill="#00ffff" stroke="#000" stroke-width="1"/><circle cx="520.60" cy="220.10" r="21" fill="none" stroke="#ff0000" stroke-width="4"/><circle cx="520.6" cy="220.1" r="15.2" fill="#00ffff" stroke="#000" stroke-width="1"/><circle cx="574.60" cy="220.10" r="21" fill="none" stroke="#ff0000" stroke-width="4"/><circle cx="574.6" cy="220.1" r="15.2" fill="#00ffff" stroke="#000" stroke-width="1"/><circle cx="628.60" cy="220.10" r="21" fill="none" stroke="#ff0000" stroke-width="4"/><circle cx="628.6" cy="220.1" r="15.2" fill="#00ffff" stroke="#000" stroke-width="1"/><circle cx="682.60" cy="220.10" r="21" fill="none" stroke="#ff0000" stroke-width="4"/><circle cx="682.6" cy="220.1" r="15.2" fill="#00ffff" stroke="#000" stroke-width="1"/><circle cx="520.60" cy="274.10" r="21" fill="none" stroke="#ff0000" stroke-width="4"/><circle cx="520.6" cy="274.1" r="15.2" fill="#ffff00" stroke="#000" stroke-width="1"/><rect x="517.6" y="254.10000000000002" width="6" height="40" fill="#00af50"/><rect x="500.6" y="271.1" width="40" height="6" fill="#00af50"/><circle cx="520.60" cy="328.10" r="21" fill="none" stroke="#ff0000" stroke-width="4"/><circle cx="520.6" cy="328.1" r="15.2" fill="#ff0000" stroke="#000" stroke-width="1"/><rect x="517.6" y="308.1" width="6" height="40" fill="#00af50"/><rect x="500.6" y="325.1" width="40" height="6" fill="#00af50"/><circle cx="574.60" cy="328.10" r="21" fill="none" stroke="#ff0000" stroke-width="4"/><circle cx="574.6" cy="328.1" r="15.2" fill="#ff0000" stroke="#000" stroke-width="1"/><circle cx="466.60" cy="382.10" r="21" fill="none" stroke="#ff0000" stroke-width="4"/><circle cx="466.6" cy="382.1" r="15.2" fill="#00ffff" stroke="#000" stroke-width="1"/><rect x="463.6" y="362.1" width="6" height="40" fill="#00af50"/><rect x="446.6" y="379.1" width="40" height="6" fill="#00af50"/><circle cx="520.60" cy="382.10" r="21" fill="none" stroke="#ff0000" stroke-width="4"/><circle cx="520.6" cy="382.1" r="15.2" fill="#00ffff" stroke="#000" stroke-width="1"/><circle cx="574.60" cy="382.10" r="21" fill="none" stroke="#ff0000" stroke-width="4"/><circle cx="574.6" cy="382.1" r="15.2" fill="#00ffff" stroke="#000" stroke-width="1"/><circle cx="520.60" cy="436.10" r="21" fill="none" stroke="#ff0000" stroke-width="4"/><circle cx="520.6" cy="436.1" r="15.2" fill="#ffff00" stroke="#000" stroke-width="1"/><rect x="517.6" y="416.1" width="6" height="40" fill="#00af50"/><rect x="500.6" y="433.1" width="40" height="6" fill="#00af50"/><circle cx="520.60" cy="490.10" r="21" fill="none" stroke="#ff0000" stroke-width="4"/><circle cx="520.6" cy="490.1" r="15.2" fill="#ff0000" stroke="#000" stroke-width="1"/><rect x="517.6" y="470.1" width="6" height="40" fill="#00af50"/><rect x="500.6" y="487.1" width="40" height="6" fill="#00af50"/><circle cx="520.60" cy="544.10" r="21" fill="none" stroke="#ff0000" stroke-width="4"/><circle cx="520.6" cy="544.1" r="15.2" fill="#00ffff" stroke="#000" stroke-width="1"/><rect x="517.6" y="524.1" width="6" height="40" fill="#00af50"/><rect x="500.6" y="541.1" width="40" height="6" fill="#00af50"/><circle cx="520.60" cy="598.10" r="21" fill="none" stroke="#ff0000" stroke-width="4"/><circle cx="520.6" cy="598.1" r="15.2" fill="#ffff00" stroke="#000" stroke-width="1"/><rect x="517.6" y="578.1" width="6" height="40" fill="#00af50"/><rect x="500.6" y="595.1" width="40" height="6" fill="#00af50"/><line x1="520.60" y1="128.40" x2="466.60" y2="149.80" stroke="#ff10ff" stroke-width="1"/><line x1="520.60" y1="128.40" x2="520.60" y2="149.80" stroke="#ff10ff" stroke-width="1"/><line x1="520.60" y1="128.40" x2="574.60" y2="149.80" stroke="#ff10ff" stroke-width="1"/><line x1="465.00" y1="182.40" x2="411.00" y2="203.80" stroke="#40f060" stroke-width="1"/><line x1="468.20" y1="182.40" x2="414.20" y2="203.80" stroke="#40f060" stroke-width="1"/><line x1="466.60" y1="182.40" x2="466.60" y2="203.80" stroke="#40f060" stroke-width="1"/><line x1="466.60" y1="182.40" x2="574.60" y2="203.80" stroke="#40f060" stroke-width="1"/><line x1="520.60" y1="182.40" x2="466.60" y2="203.80" stroke="#8040ff" stroke-width="1"/><line x1="519.00" y1="182.40" x2="519.00" y2="203.80" stroke="#8040ff" stroke-width="1"/><line x1="522.20" y1="182.40" x2="522.20" y2="203.80" stroke="#8040ff" stroke-width="1"/><line x1="520.60" y1="182.40" x2="628.60" y2="203.80" stroke="#8040ff" stroke-width="1"/><line x1="574.60" y1="182.40" x2="574.60" y2="203.80" stroke="#30d030" stroke-width="1"/><line x1="574.60" y1="182.40" x2="628.60" y2="203.80" stroke="#30ff30" stroke-width="1"/><line x1="573.00" y1="182.40" x2="681.00" y2="203.80" stroke="#30ff30" stroke-width="1"/><line x1="576.20" y1="182.40" x2="684.20" y2="203.80" stroke="#30ff30" stroke-width="1"/><line x1="411.00" y1="236.40" x2="519.00" y2="257.80" stroke="#ff3838" stroke-width="1"/><line x1="414.20" y1="236.40" x2="522.20" y2="257.80" stroke="#ff3838" stroke-width="1"/><line x1="465.00" y1="236.40" x2="519.00" y2="311.80" stroke="#ffaa28" stroke-width="1"/><line x1="468.20" y1="236.40" x2="522.20" y2="311.80" stroke="#ffaa28" stroke-width="1"/><line x1="519.00" y1="236.40" x2="465.00" y2="365.80" stroke="#ff3070" stroke-width="1"/><line x1="522.20" y1="236.40" x2="468.20" y2="365.80" stroke="#ff3070" stroke-width="1"/><line x1="573.00" y1="236.40" x2="573.00" y2="311.80" stroke="#b8ff30" stroke-width="1"/><line x1="576.20" y1="236.40" x2="576.20" y2="311.80" stroke="#b8ff30" stroke-width="1"/><line x1="627.00" y1="236.40" x2="519.00" y2="365.80" stroke="#3080ff" stroke-width="1"/><line x1="630.20" y1="236.40" x2="522.20" y2="365.80" stroke="#3080ff" stroke-width="1"/><line x1="681.00" y1="236.40" x2="573.00" y2="365.80" stroke="#30ffff" stroke-width="1"/><line x1="684.20" y1="236.40" x2="576.20" y2="365.80" stroke="#30ffff" stroke-width="1"/><line x1="520.60" y1="290.40" x2="520.60" y2="311.80" stroke="#ff3838" stroke-width="1"/><line x1="520.60" y1="290.40" x2="574.60" y2="311.80" stroke="#ff3838" stroke-width="1"/><line x1="519.00" y1="344.40" x2="465.00" y2="365.80" stroke="#ffaa28" stroke-width="1"/><line x1="522.20" y1="344.40" x2="468.20" y2="365.80" stroke="#ffaa28" stroke-width="1"/><line x1="520.60" y1="344.40" x2="520.60" y2="365.80" stroke="#ffaa28" stroke-width="1"/><line x1="574.60" y1="344.40" x2="520.60" y2="365.80" stroke="#b8ff30" stroke-width="1"/><line x1="573.00" y1="344.40" x2="573.00" y2="365.80" stroke="#b8ff30" stroke-width="1"/><line x1="576.20" y1="344.40" x2="576.20" y2="365.80" stroke="#b8ff30" stroke-width="1"/><line x1="465.00" y1="398.40" x2="519.00" y2="419.80" stroke="#ff3070" stroke-width="1"/><line x1="468.20" y1="398.40" x2="522.20" y2="419.80" stroke="#ff3070" stroke-width="1"/><line x1="519.00" y1="398.40" x2="519.00" y2="473.80" stroke="#3080ff" stroke-width="1"/><line x1="522.20" y1="398.40" x2="522.20" y2="473.80" stroke="#3080ff" stroke-width="1"/><line x1="520.60" y1="452.40" x2="520.60" y2="473.80" stroke="#ff3070" stroke-width="1"/><line x1="519.00" y1="506.40" x2="519.00" y2="527.80" stroke="#3080ff" stroke-width="1"/><line x1="522.20" y1="506.40" x2="522.20" y2="527.80" stroke="#3080ff" stroke-width="1"/><line x1="519.00" y1="560.40" x2="519.00" y2="581.80" stroke="#30ffff" stroke-width="1"/><line x1="522.20" y1="560.40" x2="522.20" y2="581.80" stroke="#30ffff" stroke-width="1"/><rect x="480.4" y="136.0" width="25.8" height="3.7" fill="#ff10ff"/><rect x="482.2" y="137.2" width="2.4" height="1.8" fill="#000" fill-opacity="1"/><rect x="486.0" y="137.2" width="1.0" height="1.8" fill="#000" fill-opacity="0.9"/><rect x="488.0" y="137.2" width="7.0" height="1.8" fill="#000" fill-opacity="0.72"/><rect x="495.8" y="137.2" width="2.0" height="1.8" fill="#000" fill-opacity="1"/><rect x="507.4" y="136.0" width="25.8" height="3.7" fill="#ff10ff"/><rect x="509.2" y="137.2" width="2.4" height="1.8" fill="#000" fill-opacity="1"/><rect x="513.0" y="137.2" width="1.0" height="1.8" fill="#000" fill-opacity="0.9"/><rect x="515.0" y="137.2" width="7.0" height="1.8" fill="#000" fill-opacity="0.72"/><rect x="522.8" y="137.2" width="2.0" height="1.8" fill="#000" fill-opacity="1"/><rect x="534.4" y="136.0" width="25.8" height="3.7" fill="#ff10ff"/><rect x="536.2" y="137.2" width="2.4" height="1.8" fill="#000" fill-opacity="1"/><rect x="540.0" y="137.2" width="1.0" height="1.8" fill="#000" fill-opacity="0.9"/><rect x="542.0" y="137.2" width="7.0" height="1.8" fill="#000" fill-opacity="0.72"/><rect x="549.8" y="137.2" width="2.0" height="1.8" fill="#000" fill-opacity="1"/><rect x="426.4" y="189.8" width="25.8" height="7.4" fill="#40f060"/><rect x="426.4" y="193.3" width="25.8" height="0.5" fill="#82f597"/><rect x="428.2" y="191.0" width="2.4" height="1.8" fill="#000" fill-opacity="1"/><rect x="432.0" y="191.0" width="1.0" height="1.8" fill="#000" fill-opacity="0.9"/><rect x="434.0" y="191.0" width="7.0" height="1.8" fill="#000" fill-opacity="0.72"/><rect x="441.8" y="191.0" width="2.0" height="1.8" fill="#000" fill-opacity="1"/><rect x="428.2" y="194.7" width="2.4" height="1.8" fill="#000" fill-opacity="1"/><rect x="432.0" y="194.7" width="1.0" height="1.8" fill="#000" fill-opacity="0.9"/><rect x="434.0" y="194.7" width="7.0" height="1.8" fill="#000" fill-opacity="0.72"/><rect x="441.8" y="194.7" width="2.0" height="1.8" fill="#000" fill-opacity="1"/><rect x="453.4" y="189.8" width="25.8" height="3.7" fill="#40f060"/><rect x="455.2" y="191.0" width="2.4" height="1.8" fill="#000" fill-opacity="1"/><rect x="459.0" y="191.0" width="1.0" height="1.8" fill="#000" fill-opacity="0.9"/><rect x="461.0" y="191.0" width="7.0" height="1.8" fill="#000" fill-opacity="0.72"/><rect x="468.8" y="191.0" width="2.0" height="1.8" fill="#000" fill-opacity="1"/><rect x="480.4" y="189.8" width="25.8" height="3.7" fill="#8040ff"/><rect x="482.2" y="191.0" width="2.4" height="1.8" fill="#000" fill-opacity="1"/><rect x="486.0" y="191.0" width="1.0" height="1.8" fill="#000" fill-opacity="0.9"/><rect x="488.0" y="191.0" width="7.0" height="1.8" fill="#000" fill-opacity="0.72"/><rect x="495.8" y="191.0" width="2.0" height="1.8" fill="#000" fill-opacity="1"/><rect x="507.4" y="189.8" width="25.8" height="7.4" fill="#8040ff"/><rect x="507.4" y="193.3" width="25.8" height="0.5" fill="#ac82ff"/><rect x="509.2" y="191.0" width="2.4" height="1.8" fill="#000" fill-opacity="1"/><rect x="513.0" y="191.0" width="1.0" height="1.8" fill="#000" fill-opacity="0.9"/><rect x="515.0" y="191.0" width="7.0" height="1.8" fill="#000" fill-opacity="0.72"/><rect x="522.8" y="191.0" width="2.0" height="1.8" fill="#000" fill-opacity="1"/><rect x="509.2" y="194.7" width="2.4" height="1.8" fill="#000" fill-opacity="1"/><rect x="513.0" y="194.7" width="1.0" height="1.8" fill="#000" fill-opacity="0.9"/><rect x="515.0" y="194.7" width="7.0" height="1.8" fill="#000" fill-opacity="0.72"/><rect x="522.8" y="194.7" width="2.0" height="1.8" fill="#000" fill-opacity="1"/><rect x="561.4" y="189.8" width="25.8" height="3.7" fill="#30d030"/><rect x="563.2" y="191.0" width="2.4" height="1.8" fill="#000" fill-opacity="1"/><rect x="567.0" y="191.0" width="1.0" height="1.8" fill="#000" fill-opacity="0.9"/><rect x="569.0" y="191.0" width="7.0" height="1.8" fill="#000" fill-opacity="0.72"/><rect x="576.8" y="191.0" width="2.0" height="1.8" fill="#000" fill-opacity="1"/><rect x="588.4" y="189.8" width="25.8" height="3.7" fill="#30ff30"/><rect x="590.2" y="191.0" width="2.4" height="1.8" fill="#000" fill-opacity="1"/><rect x="594.0" y="191.0" width="1.0" height="1.8" fill="#000" fill-opacity="0.9"/><rect x="596.0" y="191.0" width="7.0" height="1.8" fill="#000" fill-opacity="0.72"/><rect x="603.8" y="191.0" width="2.0" height="1.8" fill="#000" fill-opacity="1"/><rect x="615.4" y="189.8" width="25.8" height="7.4" fill="#30ff30"/><rect x="615.4" y="193.3" width="25.8" height="0.5" fill="#78ff78"/><rect x="617.2" y="191.0" width="2.4" height="1.8" fill="#000" fill-opacity="1"/><rect x="621.0" y="191.0" width="1.0" height="1.8" fill="#000" fill-opacity="0.9"/><rect x="623.0" y="191.0" width="7.0" height="1.8" fill="#000" fill-opacity="0.72"/><rect x="630.8" y="191.0" width="2.0" height="1.8" fill="#000" fill-opacity="1"/><rect x="617.2" y="194.7" width="2.4" height="1.8" fill="#000" fill-opacity="1"/><rect x="621.0" y="194.7" width="1.0" height="1.8" fill="#000" fill-opacity="0.9"/><rect x="623.0" y="194.7" width="7.0" height="1.8" fill="#000" fill-opacity="0.72"/><rect x="630.8" y="194.7" width="2.0" height="1.8" fill="#000" fill-opacity="1"/><rect x="453.4" y="244.0" width="25.8" height="7.4" fill="#ff3838"/><rect x="453.4" y="247.5" width="25.8" height="0.5" fill="#ff7d7d"/><rect x="455.2" y="245.2" width="2.4" height="1.8" fill="#000" fill-opacity="1"/><rect x="459.0" y="245.2" width="1.0" height="1.8" fill="#000" fill-opacity="0.9"/><rect x="461.0" y="245.2" width="7.0" height="1.8" fill="#000" fill-opacity="0.72"/><rect x="468.8" y="245.2" width="2.0" height="1.8" fill="#000" fill-opacity="1"/><rect x="455.2" y="248.9" width="2.4" height="1.8" fill="#000" fill-opacity="1"/><rect x="459.0" y="248.9" width="1.0" height="1.8" fill="#000" fill-opacity="0.9"/><rect x="461.0" y="248.9" width="7.0" height="1.8" fill="#000" fill-opacity="0.72"/><rect x="468.8" y="248.9" width="2.0" height="1.8" fill="#000" fill-opacity="1"/><rect x="480.4" y="271.0" width="25.8" height="7.4" fill="#ffaa28"/><rect x="480.4" y="274.5" width="25.8" height="0.5" fill="#ffc773"/><rect x="482.2" y="272.2" width="2.4" height="1.8" fill="#000" fill-opacity="1"/><rect x="486.0" y="272.2" width="1.0" height="1.8" fill="#000" fill-opacity="0.9"/><rect x="488.0" y="272.2" width="7.0" height="1.8" fill="#000" fill-opacity="0.72"/><rect x="495.8" y="272.2" width="2.0" height="1.8" fill="#000" fill-opacity="1"/><rect x="482.2" y="275.9" width="2.4" height="1.8" fill="#000" fill-opacity="1"/><rect x="486.0" y="275.9" width="1.0" height="1.8" fill="#000" fill-opacity="0.9"/><rect x="488.0" y="275.9" width="7.0" height="1.8" fill="#000" fill-opacity="0.72"/><rect x="495.8" y="275.9" width="2.0" height="1.8" fill="#000" fill-opacity="1"/><rect x="480.4" y="298.0" width="25.8" height="7.4" fill="#ff3070"/><rect x="480.4" y="301.5" width="25.8" height="0.5" fill="#ff78a2"/><rect x="482.2" y="299.2" width="2.4" height="1.8" fill="#000" fill-opacity="1"/><rect x="486.0" y="299.2" width="1.0" height="1.8" fill="#000" fill-opacity="0.9"/><rect x="488.0" y="299.2" width="7.0" height="1.8" fill="#000" fill-opacity="0.72"/><rect x="495.8" y="299.2" width="2.0" height="1.8" fill="#000" fill-opacity="1"/><rect x="482.2" y="302.9" width="2.4" height="1.8" fill="#000" fill-opacity="1"/><rect x="486.0" y="302.9" width="1.0" height="1.8" fill="#000" fill-opacity="0.9"/><rect x="488.0" y="302.9" width="7.0" height="1.8" fill="#000" fill-opacity="0.72"/><rect x="495.8" y="302.9" width="2.0" height="1.8" fill="#000" fill-opacity="1"/><rect x="561.4" y="271.0" width="25.8" height="7.4" fill="#b8ff30"/><rect x="561.4" y="274.5" width="25.8" height="0.5" fill="#d0ff78"/><rect x="563.2" y="272.2" width="2.4" height="1.8" fill="#000" fill-opacity="1"/><rect x="567.0" y="272.2" width="1.0" height="1.8" fill="#000" fill-opacity="0.9"/><rect x="569.0" y="272.2" width="7.0" height="1.8" fill="#000" fill-opacity="0.72"/><rect x="576.8" y="272.2" width="2.0" height="1.8" fill="#000" fill-opacity="1"/><rect x="563.2" y="275.9" width="2.4" height="1.8" fill="#000" fill-opacity="1"/><rect x="567.0" y="275.9" width="1.0" height="1.8" fill="#000" fill-opacity="0.9"/><rect x="569.0" y="275.9" width="7.0" height="1.8" fill="#000" fill-opacity="0.72"/><rect x="576.8" y="275.9" width="2.0" height="1.8" fill="#000" fill-opacity="1"/><rect x="561.4" y="298.0" width="25.8" height="7.4" fill="#3080ff"/><rect x="561.4" y="301.5" width="25.8" height="0.5" fill="#78acff"/><rect x="563.2" y="299.2" width="2.4" height="1.8" fill="#000" fill-opacity="1"/><rect x="567.0" y="299.2" width="1.0" height="1.8" fill="#000" fill-opacity="0.9"/><rect x="569.0" y="299.2" width="7.0" height="1.8" fill="#000" fill-opacity="0.72"/><rect x="576.8" y="299.2" width="2.0" height="1.8" fill="#000" fill-opacity="1"/><rect x="563.2" y="302.9" width="2.4" height="1.8" fill="#000" fill-opacity="1"/><rect x="567.0" y="302.9" width="1.0" height="1.8" fill="#000" fill-opacity="0.9"/><rect x="569.0" y="302.9" width="7.0" height="1.8" fill="#000" fill-opacity="0.72"/><rect x="576.8" y="302.9" width="2.0" height="1.8" fill="#000" fill-opacity="1"/><rect x="615.4" y="298.0" width="25.8" height="7.4" fill="#30ffff"/><rect x="615.4" y="301.5" width="25.8" height="0.5" fill="#78ffff"/><rect x="617.2" y="299.2" width="2.4" height="1.8" fill="#000" fill-opacity="1"/><rect x="621.0" y="299.2" width="1.0" height="1.8" fill="#000" fill-opacity="0.9"/><rect x="623.0" y="299.2" width="7.0" height="1.8" fill="#000" fill-opacity="0.72"/><rect x="630.8" y="299.2" width="2.0" height="1.8" fill="#000" fill-opacity="1"/><rect x="617.2" y="302.9" width="2.4" height="1.8" fill="#000" fill-opacity="1"/><rect x="621.0" y="302.9" width="1.0" height="1.8" fill="#000" fill-opacity="0.9"/><rect x="623.0" y="302.9" width="7.0" height="1.8" fill="#000" fill-opacity="0.72"/><rect x="630.8" y="302.9" width="2.0" height="1.8" fill="#000" fill-opacity="1"/><rect x="507.4" y="298.0" width="25.8" height="3.7" fill="#ff3838"/><rect x="509.2" y="299.2" width="2.4" height="1.8" fill="#000" fill-opacity="1"/><rect x="513.0" y="299.2" width="1.0" height="1.8" fill="#000" fill-opacity="0.9"/><rect x="515.0" y="299.2" width="7.0" height="1.8" fill="#000" fill-opacity="0.72"/><rect x="522.8" y="299.2" width="2.0" height="1.8" fill="#000" fill-opacity="1"/><rect x="534.4" y="298.0" width="25.8" height="3.7" fill="#ff3838"/><rect x="536.2" y="299.2" width="2.4" height="1.8" fill="#000" fill-opacity="1"/><rect x="540.0" y="299.2" width="1.0" height="1.8" fill="#000" fill-opacity="0.9"/><rect x="542.0" y="299.2" width="7.0" height="1.8" fill="#000" fill-opacity="0.72"/><rect x="549.8" y="299.2" width="2.0" height="1.8" fill="#000" fill-opacity="1"/><rect x="480.4" y="352.0" width="25.8" height="7.4" fill="#ffaa28"/><rect x="480.4" y="355.5" width="25.8" height="0.5" fill="#ffc773"/><rect x="482.2" y="353.2" width="2.4" height="1.8" fill="#000" fill-opacity="1"/><rect x="486.0" y="353.2" width="1.0" height="1.8" fill="#000" fill-opacity="0.9"/><rect x="488.0" y="353.2" width="7.0" height="1.8" fill="#000" fill-opacity="0.72"/><rect x="495.8" y="353.2" width="2.0" height="1.8" fill="#000" fill-opacity="1"/><rect x="482.2" y="356.9" width="2.4" height="1.8" fill="#000" fill-opacity="1"/><rect x="486.0" y="356.9" width="1.0" height="1.8" fill="#000" fill-opacity="0.9"/><rect x="488.0" y="356.9" width="7.0" height="1.8" fill="#000" fill-opacity="0.72"/><rect x="495.8" y="356.9" width="2.0" height="1.8" fill="#000" fill-opacity="1"/><rect x="507.4" y="352.0" width="25.8" height="3.7" fill="#ffaa28"/><rect x="509.2" y="353.2" width="2.4" height="1.8" fill="#000" fill-opacity="1"/><rect x="513.0" y="353.2" width="1.0" height="1.8" fill="#000" fill-opacity="0.9"/><rect x="515.0" y="353.2" width="7.0" height="1.8" fill="#000" fill-opacity="0.72"/><rect x="522.8" y="353.2" width="2.0" height="1.8" fill="#000" fill-opacity="1"/><rect x="534.4" y="352.0" width="25.8" height="3.7" fill="#b8ff30"/><rect x="536.2" y="353.2" width="2.4" height="1.8" fill="#000" fill-opacity="1"/><rect x="540.0" y="353.2" width="1.0" height="1.8" fill="#000" fill-opacity="0.9"/><rect x="542.0" y="353.2" width="7.0" height="1.8" fill="#000" fill-opacity="0.72"/><rect x="549.8" y="353.2" width="2.0" height="1.8" fill="#000" fill-opacity="1"/><rect x="561.4" y="352.0" width="25.8" height="7.4" fill="#b8ff30"/><rect x="561.4" y="355.5" width="25.8" height="0.5" fill="#d0ff78"/><rect x="563.2" y="353.2" width="2.4" height="1.8" fill="#000" fill-opacity="1"/><rect x="567.0" y="353.2" width="1.0" height="1.8" fill="#000" fill-opacity="0.9"/><rect x="569.0" y="353.2" width="7.0" height="1.8" fill="#000" fill-opacity="0.72"/><rect x="576.8" y="353.2" width="2.0" height="1.8" fill="#000" fill-opacity="1"/><rect x="563.2" y="356.9" width="2.4" height="1.8" fill="#000" fill-opacity="1"/><rect x="567.0" y="356.9" width="1.0" height="1.8" fill="#000" fill-opacity="0.9"/><rect x="569.0" y="356.9" width="7.0" height="1.8" fill="#000" fill-opacity="0.72"/><rect x="576.8" y="356.9" width="2.0" height="1.8" fill="#000" fill-opacity="1"/><rect x="480.4" y="406.0" width="25.8" height="7.4" fill="#ff3070"/><rect x="480.4" y="409.5" width="25.8" height="0.5" fill="#ff78a2"/><rect x="482.2" y="407.2" width="2.4" height="1.8" fill="#000" fill-opacity="1"/><rect x="486.0" y="407.2" width="1.0" height="1.8" fill="#000" fill-opacity="0.9"/><rect x="488.0" y="407.2" width="7.0" height="1.8" fill="#000" fill-opacity="0.72"/><rect x="495.8" y="407.2" width="2.0" height="1.8" fill="#000" fill-opacity="1"/><rect x="482.2" y="410.9" width="2.4" height="1.8" fill="#000" fill-opacity="1"/><rect x="486.0" y="410.9" width="1.0" height="1.8" fill="#000" fill-opacity="0.9"/><rect x="488.0" y="410.9" width="7.0" height="1.8" fill="#000" fill-opacity="0.72"/><rect x="495.8" y="410.9" width="2.0" height="1.8" fill="#000" fill-opacity="1"/><rect x="507.4" y="433.0" width="25.8" height="7.4" fill="#3080ff"/><rect x="507.4" y="436.5" width="25.8" height="0.5" fill="#78acff"/><rect x="509.2" y="434.2" width="2.4" height="1.8" fill="#000" fill-opacity="1"/><rect x="513.0" y="434.2" width="1.0" height="1.8" fill="#000" fill-opacity="0.9"/><rect x="515.0" y="434.2" width="7.0" height="1.8" fill="#000" fill-opacity="0.72"/><rect x="522.8" y="434.2" width="2.0" height="1.8" fill="#000" fill-opacity="1"/><rect x="509.2" y="437.9" width="2.4" height="1.8" fill="#000" fill-opacity="1"/><rect x="513.0" y="437.9" width="1.0" height="1.8" fill="#000" fill-opacity="0.9"/><rect x="515.0" y="437.9" width="7.0" height="1.8" fill="#000" fill-opacity="0.72"/><rect x="522.8" y="437.9" width="2.0" height="1.8" fill="#000" fill-opacity="1"/><rect x="534.4" y="460.0" width="25.8" height="7.4" fill="#30ffff"/><rect x="534.4" y="463.5" width="25.8" height="0.5" fill="#78ffff"/><rect x="536.2" y="461.2" width="2.4" height="1.8" fill="#000" fill-opacity="1"/><rect x="540.0" y="461.2" width="1.0" height="1.8" fill="#000" fill-opacity="0.9"/><rect x="542.0" y="461.2" width="7.0" height="1.8" fill="#000" fill-opacity="0.72"/><rect x="549.8" y="461.2" width="2.0" height="1.8" fill="#000" fill-opacity="1"/><rect x="536.2" y="464.9" width="2.4" height="1.8" fill="#000" fill-opacity="1"/><rect x="540.0" y="464.9" width="1.0" height="1.8" fill="#000" fill-opacity="0.9"/><rect x="542.0" y="464.9" width="7.0" height="1.8" fill="#000" fill-opacity="0.72"/><rect x="549.8" y="464.9" width="2.0" height="1.8" fill="#000" fill-opacity="1"/><rect x="507.4" y="460.0" width="25.8" height="3.7" fill="#ff3070"/><rect x="509.2" y="461.2" width="2.4" height="1.8" fill="#000" fill-opacity="1"/><rect x="513.0" y="461.2" width="1.0" height="1.8" fill="#000" fill-opacity="0.9"/><rect x="515.0" y="461.2" width="7.0" height="1.8" fill="#000" fill-opacity="0.72"/><rect x="522.8" y="461.2" width="2.0" height="1.8" fill="#000" fill-opacity="1"/><rect x="507.4" y="514.0" width="25.8" height="7.4" fill="#3080ff"/><rect x="507.4" y="517.5" width="25.8" height="0.5" fill="#78acff"/><rect x="509.2" y="515.2" width="2.4" height="1.8" fill="#000" fill-opacity="1"/><rect x="513.0" y="515.2" width="1.0" height="1.8" fill="#000" fill-opacity="0.9"/><rect x="515.0" y="515.2" width="7.0" height="1.8" fill="#000" fill-opacity="0.72"/><rect x="522.8" y="515.2" width="2.0" height="1.8" fill="#000" fill-opacity="1"/><rect x="509.2" y="518.9" width="2.4" height="1.8" fill="#000" fill-opacity="1"/><rect x="513.0" y="518.9" width="1.0" height="1.8" fill="#000" fill-opacity="0.9"/><rect x="515.0" y="518.9" width="7.0" height="1.8" fill="#000" fill-opacity="0.72"/><rect x="522.8" y="518.9" width="2.0" height="1.8" fill="#000" fill-opacity="1"/><rect x="507.4" y="568.0" width="25.8" height="7.4" fill="#30ffff"/><rect x="507.4" y="571.5" width="25.8" height="0.5" fill="#78ffff"/><rect x="509.2" y="569.2" width="2.4" height="1.8" fill="#000" fill-opacity="1"/><rect x="513.0" y="569.2" width="1.0" height="1.8" fill="#000" fill-opacity="0.9"/><rect x="515.0" y="569.2" width="7.0" height="1.8" fill="#000" fill-opacity="0.72"/><rect x="522.8" y="569.2" width="2.0" height="1.8" fill="#000" fill-opacity="1"/><rect x="509.2" y="572.9" width="2.4" height="1.8" fill="#000" fill-opacity="1"/><rect x="513.0" y="572.9" width="1.0" height="1.8" fill="#000" fill-opacity="0.9"/><rect x="515.0" y="572.9" width="7.0" height="1.8" fill="#000" fill-opacity="0.72"/><rect x="522.8" y="572.9" width="2.0" height="1.8" fill="#000" fill-opacity="1"/><line x1="573.00" y1="398.40" x2="519.00" y2="527.80" stroke="#30ffff" stroke-width="1"/><line x1="576.20" y1="398.40" x2="522.20" y2="527.80" stroke="#30ffff" stroke-width="1"/><text x="304.8" y="115.19999999999999" font-size="8.7" text-anchor="middle" font-family="Liberation Sans" fill="#000" stroke="#000" stroke-width="0.35">4</text><text x="520.8000000000001" y="115.19999999999999" font-size="8.7" text-anchor="middle" font-family="Liberation Sans" fill="#000" stroke="#000" stroke-width="0.35">5</text><text x="466.8" y="169.2" font-size="8.7" text-anchor="middle" font-family="Liberation Sans" fill="#000" stroke="#000" stroke-width="0.35">6</text><text x="520.8000000000001" y="169.2" font-size="8.7" text-anchor="middle" font-family="Liberation Sans" fill="#000" stroke="#000" stroke-width="0.35">8</text><text x="574.8000000000001" y="169.2" font-size="8.7" text-anchor="middle" font-family="Liberation Sans" fill="#000" stroke="#000" stroke-width="0.35">11</text><text x="412.8" y="223.2" font-size="8.7" text-anchor="middle" font-family="Liberation Sans" fill="#000" stroke="#000" stroke-width="0.35">7</text><text x="466.8" y="223.2" font-size="8.7" text-anchor="middle" font-family="Liberation Sans" fill="#000" stroke="#000" stroke-width="0.35">9</text><text x="520.8000000000001" y="223.2" font-size="8.7" text-anchor="middle" font-family="Liberation Sans" fill="#000" stroke="#000" stroke-width="0.35">10</text><text x="574.8000000000001" y="223.2" font-size="8.7" text-anchor="middle" font-family="Liberation Sans" fill="#000" stroke="#000" stroke-width="0.35">12</text><text x="628.8000000000001" y="223.2" font-size="8.7" text-anchor="middle" font-family="Liberation Sans" fill="#000" stroke="#000" stroke-width="0.35">13</text><text x="682.8000000000001" y="223.2" font-size="8.7" text-anchor="middle" font-family="Liberation Sans" fill="#000" stroke="#000" stroke-width="0.35">14</text><text x="520.8000000000001" y="277.20000000000005" font-size="8.7" text-anchor="middle" font-family="Liberation Sans" fill="#000" stroke="#000" stroke-width="0.35">15</text><text x="520.8000000000001" y="331.20000000000005" font-size="8.7" text-anchor="middle" font-family="Liberation Sans" fill="#000" stroke="#000" stroke-width="0.35">16</text><text x="574.8000000000001" y="331.20000000000005" font-size="8.7" text-anchor="middle" font-family="Liberation Sans" fill="#000" stroke="#000" stroke-width="0.35">18</text><text x="466.8" y="385.20000000000005" font-size="8.7" text-anchor="middle" font-family="Liberation Sans" fill="#000" stroke="#000" stroke-width="0.35">17</text><text x="520.8000000000001" y="385.20000000000005" font-size="8.7" text-anchor="middle" font-family="Liberation Sans" fill="#000" stroke="#000" stroke-width="0.35">19</text><text x="574.8000000000001" y="385.20000000000005" font-size="8.7" text-anchor="middle" font-family="Liberation Sans" fill="#000" stroke="#000" stroke-width="0.35">20</text><text x="520.8000000000001" y="439.20000000000005" font-size="8.7" text-anchor="middle" font-family="Liberation Sans" fill="#000" stroke="#000" stroke-width="0.35">21</text><text x="520.8000000000001" y="493.20000000000005" font-size="8.7" text-anchor="middle" font-family="Liberation Sans" fill="#000" stroke="#000" stroke-width="0.35">22</text><text x="520.8000000000001" y="547.2" font-size="8.7" text-anchor="middle" font-family="Liberation Sans" fill="#000" stroke="#000" stroke-width="0.35">23</text><text x="520.8000000000001" y="601.2" font-size="8.7" text-anchor="middle" font-family="Liberation Sans" fill="#000" stroke="#000" stroke-width="0.35">24</text></svg>
<div class="a" style="left:0px;top:583px;width:801px;height:19px;background:#dcdad5;"></div>
<div class="a" style="left:1px;top:584px;width:398px;height:1px;background:#000;"></div>
<div class="a" style="left:1px;top:584px;width:1px;height:17px;background:#000;"></div>
<div class="a" style="left:399px;top:584px;width:1px;height:18px;background:#fff;"></div>
<div class="a" style="left:1px;top:601px;width:399px;height:1px;background:#fff;"></div>
<div class="a" style="left:401px;top:584px;width:382px;height:1px;background:#000;"></div>
<div class="a" style="left:401px;top:584px;width:1px;height:17px;background:#000;"></div>
<div class="a" style="left:782px;top:584px;width:1px;height:17px;background:#fff;"></div>
<div class="a" style="left:401px;top:601px;width:382px;height:1px;background:#fff;"></div>
<div class="t" style="left:3.00px;top:586.00px;font-size:13.5px;line-height:13.5px;letter-spacing:0.041px;">last event: AYU_ADDDEPENDENCY for taskId 24</div>
<div class="t" style="left:402.80px;top:586.00px;font-size:13.5px;line-height:13.5px;letter-spacing:0.356px;">24 nodes, 46 edges, 10 addresses, 10 original addresses</div>
<svg style="left:783px;top:583px" width="18" height="19"><path d="M3 18L17 4M8 18L17 9M13 18L17 14" stroke="#8a8884" stroke-width="1.2"/><path d="M4 18L17 5M9 18L17 10M14 18L17 15" stroke="#fff" stroke-width="0.8"/></svg>
</body></html>
